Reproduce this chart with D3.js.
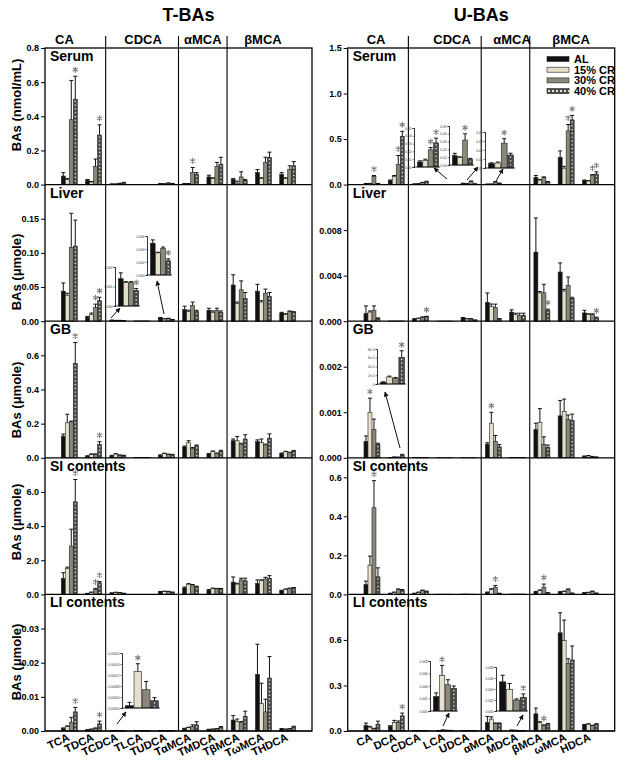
<!DOCTYPE html>
<html>
<head>
<meta charset="utf-8">
<script src="https://cdn.jsdelivr.net/npm/d3@7"></script>
<style>
body { margin: 0; background: #fff; }
text { font-family: "Liberation Sans", Arial, sans-serif; font-weight: bold; }
</style>
</head>
<body>
<svg id="chart" width="624" height="770"></svg>
<script>
const groups = ["AL", "15% CR", "30% CR", "40% CR"];
const panels = ["Serum", "Liver", "GB", "SI contents", "LI contents"];
const tCats = ["TCA", "TDCA", "TCDCA", "TLCA", "TUDCA", "TαMCA", "TMDCA", "TβMCA", "TωMCA", "THDCA"];
const uCats = ["CA", "DCA", "CDCA", "LCA", "UDCA", "αMCA", "MDCA", "βMCA", "ωMCA", "HDCA"];
const heads = ["CA", "CDCA", "αMCA", "βMCA"];

// T-BAs, one row per category: AL, 15% CR, 30% CR, 40% CR
const tSerum = [[0.05,0.03,0.38,0.50],[0.025,0.015,0.105,0.29],[0.003,0.003,0.006,0.01],[0.0005,0.0005,0.0008,0.0006],[0.005,0.004,0.008,0.006],[0.005,0.005,0.07,0.06],[0.045,0.035,0.105,0.12],[0.03,0.008,0.045,0.025],[0.07,0.035,0.13,0.16],[0.06,0.035,0.09,0.11]];
const tSerumSE = [[0.02,0.005,0.23,0.135],[0.005,0.003,0.045,0.06],[0.001,0.001,0.002,0.003],[0,0,0,0],[0.001,0.001,0.002,0.001],[0.001,0.001,0.03,0.01],[0.01,0.005,0.025,0.04],[0.005,0.012,0.03,0.005],[0.018,0.005,0.03,0.03],[0.01,0.005,0.02,0.025]];
const tLiver = [[0.044,0.038,0.108,0.11],[0.006,0.01,0.02,0.03],[0.0014,0.0012,0.0012,0.0008],[0.0004,0.0004,0.0005,0.0004],[0.0049,0.0034,0.0041,0.0022],[0.017,0.014,0.023,0.014],[0.016,0.013,0.016,0.013],[0.053,0.026,0.046,0.033],[0.044,0.028,0.041,0.036],[0.012,0.01,0.014,0.013]];
const tLiverSE = [[0.012,0.003,0.05,0.038],[0.001,0.002,0.005,0.005],[0.0003,0.00005,0.00005,0.0001],[0,0,0,0],[0.0005,0.0001,0.0002,0.0003],[0.005,0.002,0.005,0.002],[0.003,0.002,0.003,0.002],[0.015,0.002,0.013,0.009],[0.01,0.002,0.006,0.006],[0.001,0.001,0.001,0.001]];
const tGB = [[0.127,0.205,0.21,0.552],[0.01,0.02,0.02,0.078],[0.012,0.022,0.015,0.013],[0.002,0.002,0.002,0.002],[0.015,0.025,0.02,0.018],[0.064,0.088,0.055,0.07],[0.022,0.037,0.025,0.04],[0.1,0.1,0.08,0.11],[0.095,0.09,0.075,0.115],[0.025,0.035,0.03,0.04]];
const tGBSE = [[0.012,0.05,0.005,0.123],[0.002,0.003,0.003,0.016],[0.002,0.002,0.002,0.002],[0,0,0,0],[0.002,0.002,0.002,0.002],[0.005,0.012,0.005,0.005],[0.003,0.003,0.003,0.004],[0.01,0.025,0.005,0.025],[0.01,0.02,0.005,0.025],[0.003,0.003,0.003,0.003]];
const tSI = [[0.93,1.52,2.83,5.42],[0.05,0.12,0.3,0.68],[0.08,0.12,0.1,0.06],[0.005,0.005,0.005,0.005],[0.15,0.17,0.16,0.12],[0.38,0.6,0.55,0.45],[0.25,0.35,0.33,0.33],[0.72,0.6,0.85,0.8],[0.65,0.8,0.9,0.95],[0.22,0.3,0.35,0.38]];
const tSISE = [[0.34,0.08,0.99,1.31],[0.01,0.02,0.05,0.07],[0.01,0.01,0.01,0.01],[0,0,0,0],[0.02,0.02,0.02,0.02],[0.05,0.03,0.03,0.03],[0.03,0.02,0.02,0.02],[0.3,0.05,0.1,0.15],[0.2,0.05,0.1,0.15],[0.02,0.02,0.02,0.02]];
const tLI = [[0.0008,0.0013,0.0025,0.0056],[0.0003,0.0005,0.0008,0.0021],[0.0000084,0.000133,0.0000665,0.0000265],[0.0001,0.0001,0.0002,0.0001],[0.0001,0.0001,0.0001,0.0001],[0.0007,0.001,0.0013,0.0018],[0.0004,0.0005,0.0006,0.0011],[0.0032,0.0027,0.0025,0.0043],[0.0166,0.0081,0.0056,0.0155],[0.0006,0.0005,0.0006,0.0012]];
const tLISE = [[0.0001,0.0002,0.0015,0.0013],[0.0001,0.0001,0.0001,0.0008],[0.000012,0.000028,0.00003,0.000011],[0,0,0,0],[0,0,0,0],[0.0001,0.0001,0.0005,0.0009],[0.0001,0.0001,0.0001,0.0002],[0.0013,0.0008,0.0003,0.0015],[0.0088,0.0059,0.0037,0.0063],[0.0001,0.0001,0.0001,0.0002]];

// U-BAs
const uSerum = [[0.01,0.01,0.09,0.01],[0.045,0.09,0.22,0.53],[0.0064,0.0085,0.022,0.031],[0.001,0.001,0.001,0.001],[0.012,0.0095,0.032,0.0075],[0.0048,0.0056,0.0276,0.0144],[0.001,0.001,0.001,0.001],[0.08,0.05,0.08,0.03],[0.3,0.18,0.59,0.71],[0.045,0.04,0.105,0.115]];
const uSerumSE = [[0.002,0.002,0.01,0.002],[0.005,0.01,0.1,0.055],[0.0015,0.0015,0.003,0.006],[0,0,0,0],[0.003,0.001,0.008,0.001],[0.001,0.001,0.005,0.002],[0,0,0,0],[0.02,0.005,0.005,0.003],[0.07,0.02,0.07,0.05],[0.005,0.003,0.005,0.025]];
const uLiver = [[0.00067,0.0008,0.00096,0.00024],[0.00002,0.00002,0.00002,0.00002],[0.0002,0.00025,0.00035,0.0004],[0.00001,0.00001,0.00001,0.00001],[0.0003,0.0002,0.0002,0.0001],[0.00164,0.00131,0.0012,0.0002],[0.0008,0.0006,0.0005,0.0005],[0.00607,0.00248,0.0025,0.00096],[0.00432,0.00265,0.00315,0.002],[0.00073,0.0006,0.0006,0.0003]];
const uLiverSE = [[0.00067,0.0001,0.00038,0.00005],[0,0,0,0],[0.00002,0.00002,0.00003,0.00003],[0,0,0,0],[0.00003,0.00002,0.00002,0.00001],[0.00084,0.0002,0.0003,0.00003],[0.0002,0.0001,0.0002,0.0002],[0.003,0.00012,0.00074,0.0001],[0.0008,0.00015,0.00073,0.0001],[0.00023,0.00005,0.00005,0.00005]];
const uGB = [[0.00036,0.001,0.00062,0.00029],[0.000004,0.000016,0.000013,0.000061],[0.000005,0.000005,0.000005,0.000005],[0.000002,0.000002,0.000002,0.000002],[0.000002,0.000002,0.000002,0.000002],[0.0003,0.00076,0.00036,0.00024],[0.00001,0.00001,0.00001,0.00001],[0.00062,0.00078,0.00029,0.00023],[0.00092,0.00102,0.00084,0.00082],[0.00003,0.00004,0.00002,0.00001]];
const uGBSE = [[0.00012,0.00031,0.00023,0.00003],[0.000001,0.000002,0.000002,0.000015],[0,0,0,0],[0,0,0,0],[0,0,0,0],[0.00003,0.00024,0.00013,0.00005],[0,0,0,0],[0.00014,0.0003,0.00017,0.00005],[0.00034,0.00027,0.0001,0.00014],[0.00001,0.00001,0.00001,0.00001]];
const uSI = [[0.051,0.15,0.444,0.09],[0.005,0.01,0.025,0.02],[0.005,0.01,0.02,0.015],[0.001,0.001,0.001,0.001],[0.002,0.002,0.001,0.001],[0.01,0.025,0.037,0.005],[0.002,0.002,0.002,0.002],[0.013,0.02,0.037,0.008],[0.012,0.015,0.025,0.006],[0.008,0.01,0.015,0.006]];
const uSISE = [[0.017,0.046,0.139,0.046],[0.001,0.002,0.003,0.005],[0.001,0.002,0.002,0.002],[0,0,0,0],[0,0,0,0],[0.002,0.004,0.009,0.001],[0,0,0,0],[0.002,0.003,0.016,0.001],[0.002,0.002,0.003,0.001],[0.001,0.001,0.002,0.001]];
const uLI = [[0.035,0.025,0.015,0.045],[0.03,0.056,0.056,0.1],[0.002,0.002,0.002,0.002],[0.0023,0.0057,0.0042,0.0036],[0.002,0.002,0.002,0.002],[0.056,0.078,0.05,0.05],[0.0053,0.0039,0.002,0.0025],[0.113,0.056,0.035,0.045],[0.647,0.595,0.446,0.468],[0.04,0.045,0.035,0.045]];
const uLISE = [[0.017,0.005,0.003,0.02],[0.005,0.014,0.01,0.018],[0,0,0,0],[0.0006,0.0016,0.0008,0.0004],[0,0,0,0],[0.04,0.015,0.003,0.003],[0.0012,0.0011,0.0002,0.0006],[0.038,0.005,0.005,0.005],[0.132,0.136,0.03,0.092],[0.003,0.003,0.003,0.003]];

// significance marks: [panel, category, group]
const tStars = [[0,0,3],[0,1,3],[0,5,2],[1,1,2],[1,1,3],[2,0,3],[2,1,3],[3,0,3],[3,1,2],[3,1,3],[4,0,3],[4,1,3]];
const uStars = [[0,0,2],[0,1,2],[0,1,3],[0,8,2],[0,8,3],[0,9,2],[0,9,3],[1,2,3],[1,7,3],[1,9,3],[2,0,1],[2,5,1],[3,0,2],[3,5,2],[3,7,2],[4,1,3],[4,7,2]];

const tMax = [0.8, 0.2, 0.8, 8, 0.04];
const uMax = [1.5, 0.012, 0.003, 0.7, 0.9];
const tTicks = [[0,0.2,0.4,0.6,0.8],[0,0.05,0.1,0.15],[0,0.2,0.4,0.6],[0,2,4,6],[0,0.01,0.02,0.03]];
const uTicks = [[0,0.5,1,1.5],[0,0.004,0.008],[0,0.001,0.002],[0,0.2,0.4,0.6],[0,0.3,0.6]];

const fills = ["#111", "#e4e0cc", "#8a887a", "#4a4a48"];

const svg = d3.select("#chart");
const rowTop = 48, rowH = 136.6, bottom = rowTop + 5 * rowH;

const sides = [
  { x0: 45, x1: 312, cats: tCats, data: [tSerum, tLiver, tGB, tSI, tLI], se: [tSerumSE, tLiverSE, tGBSE, tSISE, tLISE],
    stars: tStars, max: tMax, ticks: tTicks, fmt: [".1f", ".2f", ".1f", ".1f", ".2f"],
    title: "T-BAs", headPos: [0.8, 4.04, 6.5, 8.98] },
  { x0: 347.7, x1: 614.7, cats: uCats, data: [uSerum, uLiver, uGB, uSI, uLI], se: [uSerumSE, uLiverSE, uGBSE, uSISE, uLISE],
    stars: uStars, max: uMax, ticks: uTicks, fmt: [".1f", ".3f", ".3f", ".1f", ".1f"],
    title: "U-BAs", headPos: [1.17, 4.3, 6.77, 9.2] }
];

function drawBar(g, cx, y, v, se, k, bw) {
  const top = y(v), base = y(0);
  g.append("rect")
    .attr("x", cx - bw / 2).attr("y", top)
    .attr("width", bw).attr("height", Math.max(0, base - top))
    .attr("fill", fills[k])
    .attr("stroke", "#222").attr("stroke-width", 0.6);
  if (k === 3 && base - top > 2) {
    g.append("line")
      .attr("x1", cx).attr("x2", cx).attr("y1", top + 1.5).attr("y2", base)
      .attr("stroke", "#ecece2").attr("stroke-width", 1.3)
      .attr("stroke-dasharray", "1.2,2.6");
  }
  if (se > 0) {
    const ey = y(v + se);
    g.append("line").attr("x1", cx).attr("x2", cx).attr("y1", top).attr("y2", ey)
      .attr("stroke", "#111").attr("stroke-width", 1);
    g.append("line").attr("x1", cx - 2).attr("x2", cx + 2).attr("y1", ey).attr("y2", ey)
      .attr("stroke", "#111").attr("stroke-width", 1);
  }
}

// significance asterisk drawn as a symbol, centred a few px above the error cap
const starPath = d3.symbol().type(d3.symbolAsterisk).size(24)();
function star(g, x, y) {
  g.append("path").attr("d", starPath).attr("transform", `translate(${x},${y})`)
    .attr("fill", "none").attr("stroke", "#7c7c7c").attr("stroke-width", 1.1);
}

sides.forEach((s, si) => {
  const x = d3.scaleLinear().domain([0, 11]).range([s.x0, s.x1]);
  const g = svg.append("g");
  s.y = [];

  s.data.forEach((rows, p) => {
    const y = d3.scaleLinear().domain([0, s.max[p]]).range([rowTop + (p + 1) * rowH, rowTop + p * rowH]);
    s.y[p] = y;
    rows.forEach((vals, i) => {
      vals.forEach((v, k) => {
        drawBar(g, x(i + 1) - 6 + 4 * k, y, v, s.se[p][i][k], k, 4);
      });
    });
    const ax = g.append("g").attr("transform", `translate(${s.x0},0)`)
      .call(d3.axisLeft(y).tickValues(s.ticks[p]).tickFormat(d3.format(s.fmt[p])).tickSize(4).tickPadding(2));
    ax.select(".domain").remove();
    ax.selectAll(".tick line").attr("stroke", "#000").attr("stroke-width", 1);
    ax.selectAll("text").style("font-size", "9px").attr("fill", "#000");

    g.append("line").attr("x1", s.x0).attr("x2", s.x1).attr("y1", y(0)).attr("y2", y(0))
      .attr("stroke", "#000").attr("stroke-width", 1.2);
    g.append("text").attr("x", s.x0 + 5).attr("y", rowTop + p * rowH + 13)
      .style("font-size", "14px").text(panels[p]);
  });

  s.stars.forEach(([p, i, k]) => {
    const v = s.data[p][i][k] + s.se[p][i][k];
    star(g, x(i + 1) - 6 + 4 * k, s.y[p](v) - 6.5);
  });

  // frame and family separators
  g.append("rect").attr("x", s.x0).attr("y", rowTop).attr("width", s.x1 - s.x0).attr("height", bottom - rowTop)
    .attr("fill", "none").attr("stroke", "#000").attr("stroke-width", 1.3);
  [2.5, 5.5, 7.5].forEach(b => {
    g.append("line").attr("x1", x(b)).attr("x2", x(b)).attr("y1", 36).attr("y2", bottom)
      .attr("stroke", "#000").attr("stroke-width", 1.1);
  });
  heads.forEach((h, j) => {
    g.append("text").attr("x", x(s.headPos[j])).attr("y", 44).attr("text-anchor", "middle")
      .style("font-size", "13px").text(h);
  });
  g.append("text").attr("x", (s.x0 + s.x1) / 2 + (si === 0 ? 10 : 0)).attr("y", 21).attr("text-anchor", "middle")
    .style("font-size", "18px").text(s.title);

  s.cats.forEach((c, i) => {
    g.append("text").attr("transform", `translate(${x(i + 1) + 1},740) rotate(-25)`)
      .attr("text-anchor", "end").style("font-size", "11px").text(c);
  });
  s.x = x;
});

// y titles (left block only)
const yTitles = ["BAs (nmol/mL)", "BAs (μmole)", "BAs (μmole)", "BAs (μmole)", "BAs (μmole)"];
const yTitlePos = [105, 272, 400, 522, 662];
yTitles.forEach((t, p) => {
  svg.append("text").attr("transform", `translate(21,${yTitlePos[p]}) rotate(-90)`)
    .attr("text-anchor", "middle").style("font-size", "13px").text(t);
});

// legend
const leg = svg.append("g").attr("transform", "translate(547,59)");
groups.forEach((gname, k) => {
  const row = leg.append("g").attr("transform", `translate(0,${k * 10.7})`);
  row.append("rect").attr("x", 0).attr("y", -2.5).attr("width", 22).attr("height", 5)
    .attr("fill", fills[k]).attr("stroke", "#222").attr("stroke-width", 0.6);
  if (k === 3) {
    row.append("line").attr("x1", 1).attr("x2", 22).attr("y1", 0).attr("y2", 0)
      .attr("stroke", "#e8e8dc").attr("stroke-width", 2).attr("stroke-dasharray", "2,2");
  }
  row.append("text").attr("x", 27).attr("y", 0).attr("dy", "0.36em").style("font-size", "11px").text(gname);
});

// insets: side, panel, category, box [x0,y0,x1,y1], axis max, ticks, star groups, arrow [from,to]
const insets = [
  { side: 0, panel: 1, cat: 2, box: [115, 267, 140, 306], max: 0.002, ticks: [0, 0.001, 0.002], fmt: ".3f", stars: [3], arrow: [[111, 318], [120, 308]] },
  { side: 0, panel: 1, cat: 4, box: [147, 236, 172, 275], max: 0.006, ticks: [0, 0.002, 0.004, 0.006], fmt: ".3f", stars: [3], arrow: [[164, 314], [157, 281]] },
  { side: 0, panel: 4, cat: 2, box: [122, 653, 160, 708], max: 0.0002, ticks: [0, 0.00004, 0.00008, 0.00012, 0.00016, 0.0002], fmt: ".5f", stars: [1], arrow: [[117, 724], [126, 712]] },
  { side: 1, panel: 0, cat: 2, box: [414, 128, 440, 167], max: 0.05, ticks: [0, 0.01, 0.02, 0.03, 0.04, 0.05], fmt: ".2f", stars: [2, 3], arrow: [[447, 179], [434, 168]] },
  { side: 1, panel: 0, cat: 4, box: [449, 126, 474, 165], max: 0.05, ticks: [0, 0.01, 0.02, 0.03, 0.04, 0.05], fmt: ".2f", stars: [2], arrow: [[467, 180], [478, 167]] },
  { side: 1, panel: 0, cat: 5, box: [485, 132, 515, 168], max: 0.04, ticks: [0, 0.01, 0.02, 0.03, 0.04], fmt: ".2f", stars: [2], arrow: [[496, 181], [503, 169]] },
  { side: 1, panel: 2, cat: 1, box: [377, 349, 406, 384], max: 0.00008, ticks: [0, 0.00002, 0.00004, 0.00006, 0.00008], fmt: "e5", stars: [3], arrow: [[400, 448], [385, 392]] },
  { side: 1, panel: 4, cat: 3, box: [430, 661, 458, 711], max: 0.008, ticks: [0, 0.002, 0.004, 0.006, 0.008], fmt: ".3f", stars: [1], arrow: [[443, 726], [449, 713]] },
  { side: 1, panel: 4, cat: 6, box: [496, 667, 528, 711], max: 0.008, ticks: [0, 0.002, 0.004, 0.006, 0.008], fmt: ".3f", stars: [3], arrow: [[517, 726], [523, 715]] }
];

svg.append("defs").append("marker").attr("id", "head").attr("viewBox", "0 0 10 10")
  .attr("refX", 9).attr("refY", 5).attr("markerWidth", 5).attr("markerHeight", 5).attr("orient", "auto")
  .append("path").attr("d", "M0,0 L10,5 L0,10 z").attr("fill", "#111");

insets.forEach(ins => {
  const s = sides[ins.side];
  const [bx0, by0, bx1, by1] = ins.box;
  const vals = s.data[ins.panel][ins.cat];
  const ses = s.se[ins.panel][ins.cat];
  const g = svg.append("g");
  const xs = d3.scaleBand().domain(groups).range([bx0 + 3, bx1 - 1]).padding(0.08);
  const ys = d3.scaleLinear().domain([0, ins.max]).range([by1, by0]);
  vals.forEach((v, k) => drawBar(g, xs(groups[k]) + xs.bandwidth() / 2, ys, v, ses[k], k, xs.bandwidth()));
  const fmt = ins.fmt === "e5" ? (d => d === 0 ? "0" : (d * 1e5) + "e-5") : d3.format(ins.fmt);
  const ax = g.append("g").attr("transform", `translate(${bx0},0)`)
    .call(d3.axisLeft(ys).tickValues(ins.ticks).tickFormat(fmt).tickSize(1.5).tickPadding(1));
  ax.select(".domain").attr("stroke-width", 0.8);
  ax.selectAll(".tick line").attr("stroke-width", 0.5);
  ax.selectAll("text").style("font-size", "3.2px").style("font-weight", "normal").attr("fill", "#333");
  g.append("line").attr("x1", bx0).attr("x2", bx1).attr("y1", by1).attr("y2", by1)
    .attr("stroke", "#000").attr("stroke-width", 0.8);
  ins.stars.forEach(k => star(g, xs(groups[k]) + xs.bandwidth() / 2, ys(vals[k] + ses[k]) - 6));
  g.append("line").attr("x1", ins.arrow[0][0]).attr("y1", ins.arrow[0][1])
    .attr("x2", ins.arrow[1][0]).attr("y2", ins.arrow[1][1])
    .attr("stroke", "#111").attr("stroke-width", 1).attr("marker-end", "url(#head)");
});
</script>
</body>
</html>
